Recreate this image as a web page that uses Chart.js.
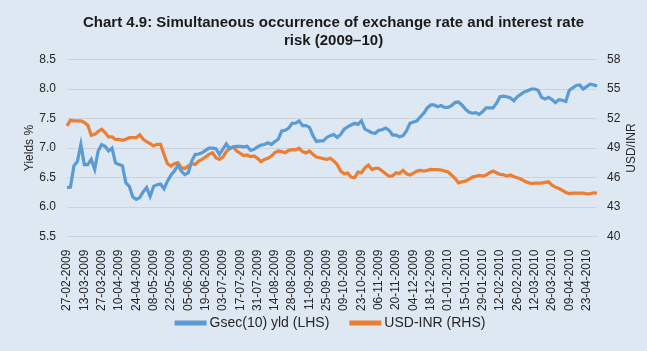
<!DOCTYPE html>
<html>
<head>
<meta charset="utf-8">
<script src="https://cdn.jsdelivr.net/npm/chart.js@4/dist/chart.umd.min.js"></script>
<style>
  html, body { margin: 0; padding: 0; background: #dde8f3; }
  #wrap { width: 647px; height: 351px; position: relative; }
</style>
</head>
<body>
<div id="wrap"><canvas id="c"></canvas></div>
<script>
// --- data (5 points between labelled dates)
const tickLabels = [
  "27-02-2009","13-03-2009","27-03-2009","10-04-2009","24-04-2009","08-05-2009",
  "22-05-2009","05-06-2009","19-06-2009","03-07-2009","17-07-2009","31-07-2009",
  "14-08-2009","28-08-2009","11-09-2009","25-09-2009","09-10-2009","23-10-2009",
  "06-11-2009","20-11-2009","04-12-2009","18-12-2009","01-01-2010","15-01-2010",
  "29-01-2010","12-02-2010","26-02-2010","12-03-2010","26-03-2010","09-04-2010",
  "23-04-2010"
];
const pointsPerTick = 5;

// Gsec(10) yield, % (LHS)
const gsec = [
  6.33,6.34,6.70,6.77,7.06,6.72,6.72,6.81,6.64,6.95,
  7.06,7.03,6.95,7.00,6.75,6.72,6.70,6.41,6.35,6.17,
  6.13,6.16,6.26,6.33,6.18,6.35,6.38,6.39,6.31,6.44,
  6.54,6.61,6.71,6.61,6.55,6.58,6.78,6.89,6.90,6.92,
  6.96,7.00,7.00,6.99,6.89,6.98,7.07,6.99,7.02,7.03,
  7.03,7.02,7.03,6.96,6.98,7.02,7.05,7.06,7.09,7.06,
  7.11,7.15,7.29,7.30,7.34,7.42,7.42,7.46,7.38,7.38,
  7.35,7.21,7.11,7.12,7.12,7.18,7.21,7.23,7.18,7.23,
  7.32,7.36,7.39,7.42,7.40,7.46,7.32,7.29,7.26,7.25,
  7.30,7.31,7.34,7.30,7.22,7.22,7.19,7.21,7.29,7.42,
  7.44,7.46,7.53,7.59,7.68,7.73,7.73,7.70,7.72,7.69,
  7.69,7.72,7.77,7.78,7.73,7.66,7.61,7.59,7.60,7.57,
  7.62,7.68,7.68,7.68,7.76,7.87,7.88,7.87,7.85,7.80,
  7.87,7.91,7.95,7.97,8.00,8.00,7.98,7.86,7.83,7.86,
  7.82,7.77,7.82,7.81,7.79,7.98,8.02,8.06,8.07,8.00,
  8.04,8.08,8.07,8.05
];

// USD-INR (RHS)
const usdInr = [
  51.25,51.83,51.77,51.77,51.77,51.60,51.32,50.30,50.40,50.68,
  50.91,50.57,50.13,50.13,49.89,49.89,49.79,49.89,50.06,50.06,
  50.06,50.34,49.89,49.66,49.45,49.21,49.38,49.38,48.36,47.41,
  47.17,47.41,47.51,47.00,46.93,47.17,47.41,47.34,47.68,47.85,
  48.09,48.36,48.53,48.02,47.85,48.09,48.64,48.98,49.11,48.70,
  48.47,48.23,48.30,48.13,48.19,47.96,47.62,47.85,47.96,48.19,
  48.53,48.70,48.64,48.53,48.77,48.84,48.81,48.98,48.64,48.50,
  48.70,48.36,48.09,48.02,47.92,47.85,47.96,47.68,47.34,46.66,
  46.39,46.46,46.05,45.98,46.56,46.49,47.00,47.28,46.83,46.93,
  46.93,46.66,46.39,46.12,46.19,46.49,46.42,46.73,46.39,46.26,
  46.45,46.66,46.73,46.66,46.73,46.83,46.80,46.80,46.77,46.66,
  46.56,46.26,45.92,45.47,45.57,45.64,45.81,46.05,46.12,46.22,
  46.15,46.26,46.49,46.66,46.49,46.32,46.29,46.15,46.26,46.09,
  45.98,45.85,45.64,45.51,45.40,45.44,45.44,45.44,45.51,45.57,
  45.23,45.03,44.89,44.69,44.49,44.38,44.42,44.42,44.42,44.42,
  44.35,44.35,44.45,44.42
];

const labels = gsec.map((_, i) => i % pointsPerTick === 0 ? (tickLabels[i / pointsPerTick] || "") : "");

const FONT = "'Liberation Sans', Arial, sans-serif";
const TXT = "#262626";
const GRID = "#cdd3da";

// right axis title (bottom-to-top) and the legend row under the date labels
const extras = {
  id: "extras",
  afterDraw(chart) {
    const { ctx } = chart;
    const y1 = chart.scales.y1;
    ctx.save();
    ctx.font = "12px " + FONT;
    ctx.fillStyle = TXT;
    ctx.textAlign = "center";
    ctx.textBaseline = "middle";
    ctx.translate(632, (y1.top + y1.bottom) / 2);
    ctx.rotate(-Math.PI / 2);
    ctx.fillText("USD/INR", 0, 0);
    ctx.restore();

    // legend
    ctx.save();
    ctx.font = "14px " + FONT;
    ctx.textBaseline = "middle";
    ctx.textAlign = "left";
    const sets = chart.data.datasets;
    const box = 32, gap = 3, between = 20, ly = 323;
    const widths = sets.map(d => ctx.measureText(d.label).width);
    const total = widths.reduce((a, w) => a + box + gap + w, 0) + between * (sets.length - 1);
    let x = 330 - total / 2;
    sets.forEach((d, i) => {
      ctx.fillStyle = d.borderColor;
      ctx.fillRect(x, ly - 2.5, box, 5);
      x += box + gap;
      ctx.fillStyle = TXT;
      ctx.fillText(d.label, x, ly);
      x += widths[i] + between;
    });
    ctx.restore();
  }
};

new Chart(document.getElementById("c"), {
  type: "line",
  data: {
    labels,
    datasets: [
      {
        label: "Gsec(10) yld (LHS)",
        data: gsec,
        yAxisID: "y",
        borderColor: "#5b9bd5",
        backgroundColor: "#5b9bd5",
        borderWidth: 3.2,
        pointRadius: 0,
        tension: 0
      },
      {
        label: "USD-INR (RHS)",
        data: usdInr,
        yAxisID: "y1",
        borderColor: "#ed7d31",
        backgroundColor: "#ed7d31",
        borderWidth: 3.2,
        pointRadius: 0,
        tension: 0
      }
    ]
  },
  options: {
    responsive: true,
    maintainAspectRatio: false,
    animation: false,
    layout: { padding: { left: 20, right: 0, top: 0, bottom: 35 } },
    plugins: {
      title: {
        display: true,
        text: ["Chart 4.9: Simultaneous occurrence of exchange rate and interest rate", "risk (2009\u201310)"],
        color: "#1a1a1a",
        font: { family: FONT, size: 15, weight: "bold", lineHeight: 1.25 },
        padding: { top: 13, bottom: 9 }
      },
      legend: { display: false },
      tooltip: { enabled: false }
    },
    scales: {
      x: {
        grid: { display: false },
        border: { color: GRID },
        ticks: {
          autoSkip: false,
          minRotation: 90,
          maxRotation: 90,
          color: TXT,
          font: { family: FONT, size: 12 },
          padding: 5
        }
      },
      y: {
        position: "left",
        min: 5.5,
        max: 8.5,
        afterFit: s => { s.width = 47; },
        ticks: {
          stepSize: 0.5,
          color: TXT,
          font: { family: FONT, size: 12 },
          padding: 11,
          callback: v => Number(v).toFixed(1)
        },
        grid: { color: GRID, drawTicks: false },
        border: { display: false },
        title: { display: true, text: "Yields %", color: TXT, font: { family: FONT, size: 12 }, padding: 2 }
      },
      y1: {
        position: "right",
        min: 40,
        max: 58,
        afterFit: s => { s.width = 50; },
        ticks: {
          stepSize: 3,
          color: TXT,
          font: { family: FONT, size: 12 },
          padding: 10
        },
        grid: { drawOnChartArea: false, drawTicks: false },
        border: { display: false }
      }
    }
  },
  plugins: [extras]
});
</script>
</body>
</html>
